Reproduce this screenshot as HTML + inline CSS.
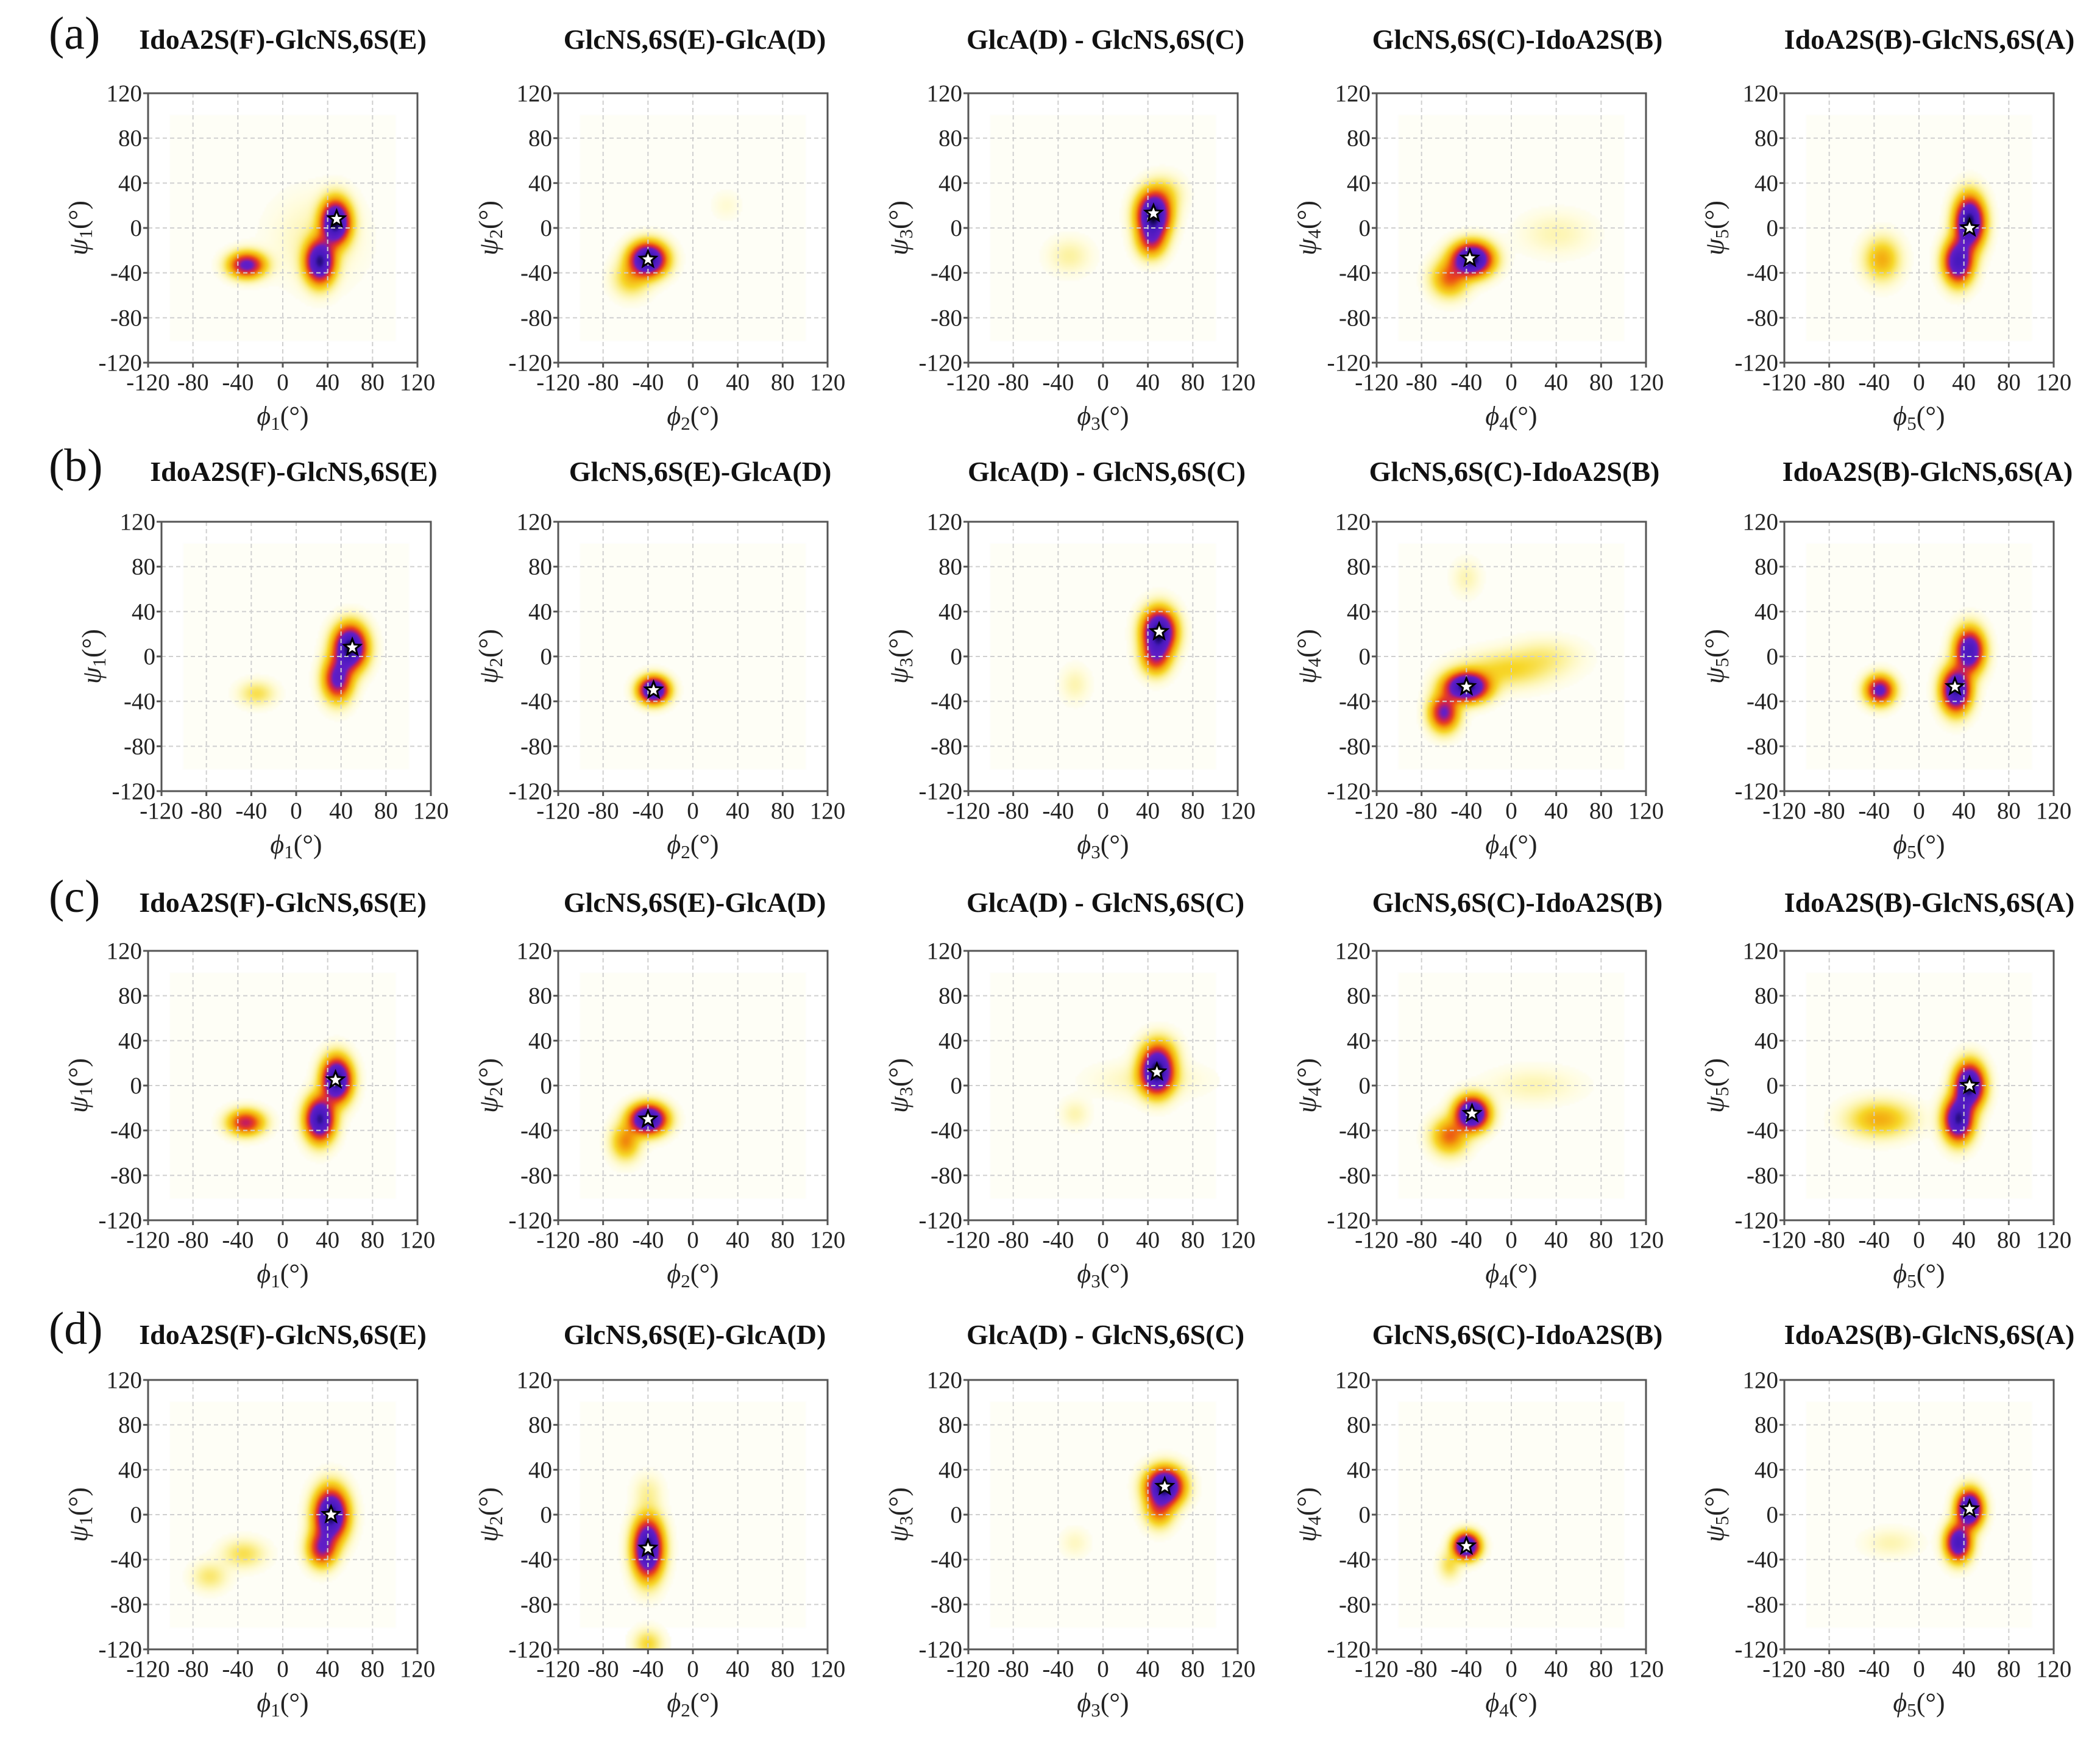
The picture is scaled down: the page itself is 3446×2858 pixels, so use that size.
<!DOCTYPE html>
<html><head><meta charset="utf-8">
<style>
html,body{margin:0;padding:0;background:#fff;}
#root{position:relative;width:3446px;height:2858px;overflow:hidden;background:#fff;font-family:"Liberation Serif",serif;}
.ttl{position:absolute;font-weight:bold;font-size:46px;white-space:nowrap;transform:translateX(-50%);color:#111;}
.lbl{position:absolute;font-size:76px;color:#111;}
canvas{position:absolute;}
svg{position:absolute;overflow:visible;}
</style></head>
<body>
<div id="root"></div>
<script>
// ---- data ----
const rowLabels = ["(a)","(b)","(c)","(d)"];
const panelTitles = ["IdoA2S(F)-GlcNS,6S(E)","GlcNS,6S(E)-GlcA(D)","GlcA(D) - GlcNS,6S(C)","GlcNS,6S(C)-IdoA2S(B)","IdoA2S(B)-GlcNS,6S(A)"];
const tickValues = [-120,-80,-40,0,40,80,120];
const tickLabels = ["-120","-80","-40","0","40","80","120"];
// blobs: [phi, psi, sigmaPhi, sigmaPsi, amplitude]
const blobsA1 = [[-32,-33,10,7,0.6],[33,-30,8,12,0.9],[47,5,8,12,1.0],[30,-10,25,25,0.04]];
const blobsA2 = [[-40,-28,10,9,1.0],[-55,-45,10,10,0.15],[30,20,8,8,0.02]];
const blobsA3 = [[45,12,9,12,1.0],[43,-10,8,10,0.4],[-30,-25,12,10,0.05],[55,30,10,10,0.1]];
const blobsA4 = [[-35,-28,11,9,1.0],[-55,-45,10,10,0.3],[40,-5,20,12,0.04]];
const blobsA5 = [[45,5,8,14,1.0],[35,-30,8,12,0.8],[-33,-28,10,12,0.2]];
const blobsB1 = [[48,8,9,12,1.0],[37,-20,8,12,0.6],[-35,-33,10,7,0.1]];
const blobsB2 = [[-35,-30,8,7,1.0]];
const blobsB3 = [[50,22,9,12,1.0],[47,0,8,10,0.4],[-25,-25,8,10,0.04]];
const blobsB4 = [[-40,-27,12,8,1.0],[-60,-50,8,10,0.55],[-5,-12,25,10,0.12],[30,0,20,10,0.06],[-40,70,8,10,0.04]];
const blobsB5 = [[-35,-30,8,8,0.6],[45,5,8,12,0.8],[33,-30,8,12,0.9]];
const blobsC1 = [[-33,-33,10,7,0.45],[33,-30,8,12,0.9],[48,5,8,12,1.0]];
const blobsC2 = [[-40,-30,10,8,1.0],[-60,-50,8,10,0.25]];
const blobsC3 = [[48,12,9,12,1.0],[50,30,10,10,0.15],[-25,-25,8,8,0.04],[40,5,30,10,0.04]];
const blobsC4 = [[-35,-25,9,9,1.0],[-55,-45,10,10,0.3],[20,0,25,10,0.04]];
const blobsC5 = [[45,0,8,12,1.0],[35,-30,8,12,0.9],[-35,-30,18,10,0.2]];
const blobsD1 = [[43,0,9,14,1.0],[35,-30,8,10,0.5],[-35,-35,12,8,0.1],[-65,-55,10,8,0.08]];
const blobsD2 = [[-40,-30,8,16,1.0],[-40,-115,8,8,0.12],[-40,20,8,10,0.05]];
const blobsD3 = [[55,25,10,10,1.0],[50,5,8,10,0.3],[-25,-25,8,8,0.03]];
const blobsD4 = [[-40,-28,7,7,1.0],[-55,-45,6,8,0.1]];
const blobsD5 = [[45,5,7,10,1.0],[35,-25,7,10,0.8],[-25,-25,15,8,0.04]];
const starPhi = [[48,-40,45,-37,45],[50,-35,50,-40,32],[47,-40,48,-35,45],[43,-40,55,-40,45]];
const starPsi = [[8,-28,13,-27,0],[8,-30,22,-27,-27],[5,-30,12,-25,0],[0,-30,25,-28,5]];
const allBlobs = [[blobsA1,blobsA2,blobsA3,blobsA4,blobsA5],[blobsB1,blobsB2,blobsB3,blobsB4,blobsB5],[blobsC1,blobsC2,blobsC3,blobsC4,blobsC5],[blobsD1,blobsD2,blobsD3,blobsD4,blobsD5]];

// ---- layout ----
const SZ = 442;
const colLeft = [243,916,1589,2259,2928];
const rowTop = [153,856,1560,2264];
const titleX = [[464,1140,1814,2490,3166],[482,1149,1816,2485,3163],[464,1140,1814,2490,3166],[464,1140,1814,2490,3166]];
const titleY = [38,747,1454,2163];
const root = document.getElementById('root');
const NS = "http://www.w3.org/2000/svg";

const cmapStops=[[0,[254,254,246]],[0.015,[255,252,220]],[0.05,[252,242,160]],[0.12,[247,215,40]],[0.22,[243,160,10]],[0.33,[236,70,25]],[0.43,[200,30,90]],[0.53,[100,30,200]],[0.8,[70,25,190]],[0.93,[30,10,110]],[1,[5,0,20]]];
function cmap(d){
  for(let i=1;i<cmapStops.length;i++){
    if(d<=cmapStops[i][0]){const a=cmapStops[i-1],b=cmapStops[i];const t=(d-a[0])/(b[0]-a[0]);
      return [0,1,2].map(k=>a[1][k]+(b[1][k]-a[1][k])*t);}
  }
  return cmapStops[cmapStops.length-1][1];
}
function mk(tag,attrs){const e=document.createElementNS(NS,tag);for(const k in attrs)e.setAttribute(k,attrs[k]);return e;}

for(let r=0;r<4;r++){
  const lb=document.createElement('div');
  lb.className='lbl';
  lb.style.left='80px';lb.style.top=(titleY[r]-26)+'px';
  lb.textContent=rowLabels[r];
  
  
  root.appendChild(lb);
  for(let c=0;c<5;c++){
    const L=(r===1&&c===0)?265:colLeft[c], T=rowTop[r];
    const xs=v=>L+(v+120)/240*SZ, ys=v=>T+(120-v)/240*SZ;
    const t=document.createElement('div');
    t.className='ttl';t.style.left=titleX[r][c]+'px';t.style.top=titleY[r]+'px';
    t.textContent=panelTitles[c];
    
    
    root.appendChild(t);
    const N=148;
    const cv=document.createElement('canvas');
    cv.width=N;cv.height=N;
    cv.style.left=L+'px';cv.style.top=T+'px';cv.style.width=SZ+'px';cv.style.height=SZ+'px';
    
    
    const ctx=cv.getContext('2d');const img=ctx.createImageData(N,N);
    const blobs=allBlobs[r][c];
    for(let j=0;j<N;j++)for(let i=0;i<N;i++){
      const phi=-120+(i+0.5)/N*240, psi=120-(j+0.5)/N*240;
      let d=0;
      for(const b of blobs){const dx=(phi-b[0])/b[2],dy=(psi-b[1])/b[3];d+=b[4]*Math.exp(-0.5*(dx*dx+dy*dy));}
      d=Math.min(1,d*0.97);
      const k=(j*N+i)*4;
      let col;
      if(d<0.004){col=(phi>-100&&phi<100&&psi>-100&&psi<100)?[254,254,246]:[255,255,255];}
      else col=cmap(d);
      img.data[k]=col[0];img.data[k+1]=col[1];img.data[k+2]=col[2];img.data[k+3]=255;
    }
    ctx.putImageData(img,0,0);
    root.appendChild(cv);
    const svg=mk('svg',{width:3446,height:2858,style:'left:0;top:0;'});
    
    
    for(let q=1;q<6;q++){
      const v=tickValues[q];
      const gx=mk('line',{x1:xs(v),x2:xs(v),y1:T,y2:T+SZ,stroke:'#cfcfcf','stroke-width':2,'stroke-dasharray':'7,5'});
      
      
      svg.appendChild(gx);
      const gy=mk('line',{x1:L,x2:L+SZ,y1:ys(v),y2:ys(v),stroke:'#cfcfcf','stroke-width':2,'stroke-dasharray':'7,5'});
      
      
      svg.appendChild(gy);
    }
    const fr=mk('rect',{x:L,y:T,width:SZ,height:SZ,fill:'none',stroke:'#555','stroke-width':3});
    
    
    svg.appendChild(fr);
    for(let q=0;q<7;q++){
      const v=tickValues[q];
      svg.appendChild(mk('line',{x1:xs(v),x2:xs(v),y1:T+SZ,y2:T+SZ+8,stroke:'#555','stroke-width':3}));
      svg.appendChild(mk('line',{x1:L-8,x2:L,y1:ys(v),y2:ys(v),stroke:'#555','stroke-width':3}));
      const tx=mk('text',{x:xs(v),y:T+SZ+45,'text-anchor':'middle','font-size':39,fill:'#222','font-family':'Liberation Serif, serif'});
      tx.textContent=tickLabels[q];
      
      
      svg.appendChild(tx);
      const ty=mk('text',{x:L-10,y:ys(v)+13,'text-anchor':'end','font-size':39,fill:'#222','font-family':'Liberation Serif, serif'});
      ty.textContent=tickLabels[q];
      
      
      svg.appendChild(ty);
    }
    const n=c+1;
    const xl=mk('text',{x:L+SZ/2,y:T+SZ+102,'text-anchor':'middle','font-size':44,fill:'#222','font-family':'Liberation Serif, DejaVu Serif, serif'});
    xl.innerHTML='<tspan font-style="italic">ϕ</tspan><tspan font-size="31" dy="8">'+n+'</tspan><tspan dy="-8">(°)</tspan>';
    
    
    svg.appendChild(xl);
    const yl=mk('text',{x:0,y:0,'text-anchor':'middle','font-size':44,fill:'#222','font-family':'Liberation Serif, DejaVu Serif, serif',transform:'translate('+(L-100)+','+(T+SZ/2)+') rotate(-90)'});
    yl.innerHTML='<tspan font-style="italic">ψ</tspan><tspan font-size="31" dy="8">'+n+'</tspan><tspan dy="-8">(°)</tspan>';
    
    
    svg.appendChild(yl);
    const sx=xs(starPhi[r][c]), sy=ys(starPsi[r][c]);
    let pts=[];
    for(let k=0;k<10;k++){const rad=k%2?6:14;const a=-Math.PI/2+k*Math.PI/5;pts.push((sx+rad*Math.cos(a)).toFixed(1)+','+(sy+rad*Math.sin(a)).toFixed(1));}
    const st=mk('polygon',{points:pts.join(' '),fill:'#fff',stroke:'#000','stroke-width':3});
    
    
    svg.appendChild(st);
    root.appendChild(svg);
  }
}
</script>
</body></html>
